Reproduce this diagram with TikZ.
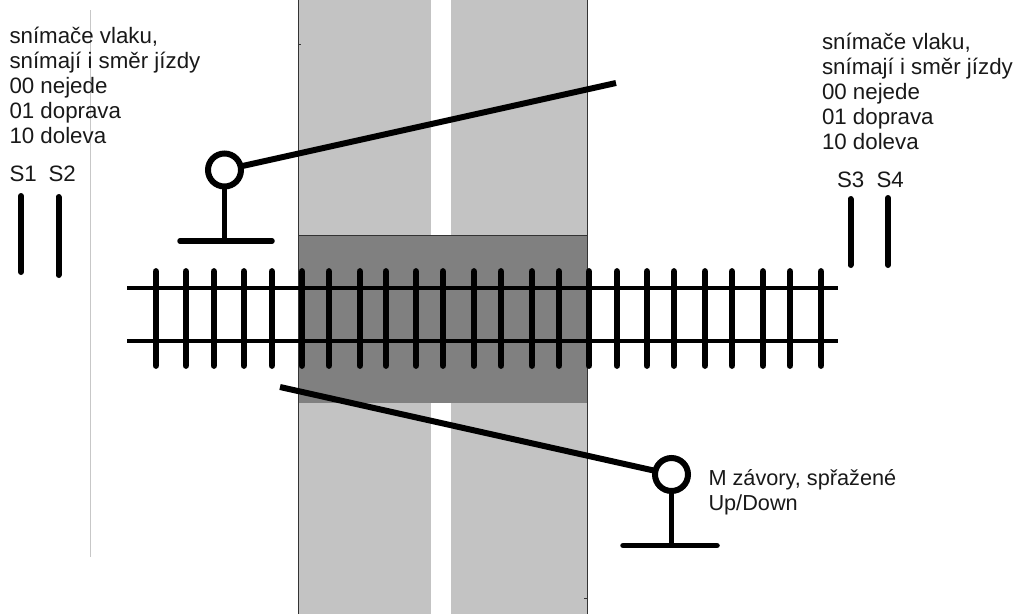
\documentclass[tikz,border=0pt]{standalone}
\usepackage{fontspec}
\setmainfont{Liberation Sans}
\definecolor{roadgray}{HTML}{C3C3C3}
\definecolor{crossgray}{HTML}{808080}
\definecolor{edgegray}{HTML}{333333}
\tikzset{
  label text/.style={inner sep=0pt,outer sep=0pt,anchor=north west,align=left,text=black!90,font=\fontsize{22.3}{25}\selectfont},
  small label/.style={label text,font=\fontsize{21.7}{25}\selectfont},
  thick line/.style={line width=5.5pt,line cap=round,black},
  arm line/.style={line width=6pt,line cap=butt,black},
  rail/.style={line width=4pt,black},
  sleeper/.style={line width=6.8pt,line cap=round,black},
  sensor/.style={line width=6pt,line cap=round,black},
  lamp/.style={circle,draw=black,line width=6pt,fill=white,minimum size=33pt,inner sep=0pt,outer sep=2pt},
  edge line/.style={line width=1pt,edgegray},
}
\begin{document}
\begin{tikzpicture}[x=1pt,y=-1pt]
\useasboundingbox (0,0) rectangle (1023,614);
\fill[white] (0,0) rectangle (1023,614);
% faint vertical line
\draw[line width=1pt,black!22] (90,10) -- (90,557);
% road
\fill[roadgray] (298,0) rectangle (431,614);
\fill[roadgray] (451,0) rectangle (587,614);
\fill[crossgray] (298,235) rectangle (587,403);
\draw[edge line] (298,0) -- (298,614);
\draw[edge line] (587,0) -- (587,614);
\draw[edge line] (298,235) -- (587,235);
\draw[edge line] (298,44) -- (301,44);
\draw[edge line] (584,598) -- (587,598);
% sleepers
\foreach \sx in {156,186,214,244,272,302,329,360,386,416,443,474,501,532,559,589,617,647,674,705,732,763,790,821}
  \draw[sleeper] (\sx,271.5) -- (\sx,365.5);
% rails
\coordinate (railAw) at (127,288); \coordinate (railAe) at (838,288);
\coordinate (railBw) at (127,341); \coordinate (railBe) at (838,341);
\draw[rail] (railAw) -- (railAe);
\draw[rail] (railBw) -- (railBe);
% sensors
\draw[sensor] (21,196) -- (21,272);
\draw[sensor] (58.5,197) -- (58.5,275);
\draw[sensor] (850.5,199) -- (850.5,265);
\draw[sensor] (888,198) -- (888,265);
% upper barrier
\node[lamp] (lampA) at (224.5,170) {};
\coordinate (armA) at (616,83);
\coordinate (baseAw) at (180,241); \coordinate (baseAe) at (272,241);
\coordinate (baseAm) at (224.5,241);
\draw[thick line] (baseAw) -- (baseAe);
\draw[thick line,line cap=butt] (lampA) -- (baseAm);
\draw[arm line] (lampA) -- (armA);
% lower barrier
\node[lamp] (lampB) at (671.5,474.5) {};
\coordinate (armB) at (280,387);
\coordinate (baseBw) at (623,545.5); \coordinate (baseBe) at (717,545.5);
\coordinate (baseBm) at (671.5,545.5);
\draw[thick line] (baseBw) -- (baseBe);
\draw[thick line,line cap=butt] (lampB) -- (baseBm);
\draw[arm line] (lampB) -- (armB);
% text
\node[label text] (textL) at (9.5,27.5) {snímače vlaku,\\snímají i směr jízdy\\00 nejede\\01 doprava\\10 doleva};
\node[label text] (textR) at (822,33) {snímače vlaku,\\snímají i směr jízdy\\00 nejede\\01 doprava\\10 doleva};
\node[label text] (sA) at (9.5,166) {S1};
\node[label text] (sB) at (48.5,166) {S2};
\node[label text] (sC) at (837,172) {S3};
\node[label text] (sD) at (876.5,172) {S4};
\node[small label] (textM) at (708.5,470) {M závory, spřažené\\Up/Down};
\end{tikzpicture}
\end{document}
